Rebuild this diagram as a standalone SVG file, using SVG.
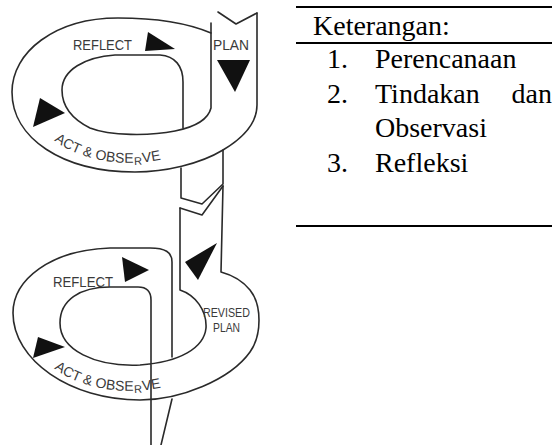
<svg xmlns="http://www.w3.org/2000/svg" width="552" height="445" viewBox="0 0 552 445">
<style>
.ln{fill:none;stroke:#2a2a2a;stroke-width:1.6;stroke-linejoin:round;stroke-linecap:round}
.ar{fill:#111}
.lb{font-family:"Liberation Sans",Arial,sans-serif;fill:#3a3a3a}
.lg{font-family:"Liberation Serif","Times New Roman",serif;font-size:28px;fill:#000}
.rule{stroke:#000;stroke-width:2}
</style>
<defs>
<path id="arcTop" d="M41.7,129 A102,68 0 0,0 208,138.7"/>
<path id="arcBot" d="M41.7,357 A102,68 0 0,0 208,366.7"/>
</defs>
<rect width="552" height="445" fill="#fff"/>

<g id="loop1">
<path class="ln" d="M211,33 C185,22 150,18 118,18 C55,18 12,52 12,92 C12,138 62,172 135,172 C165,172 200,164 223,150 C245,137 257,122 257,105 L257,13"/>
<path class="ln" d="M218,12 L236,24 L257,13"/>
<path class="ln" d="M211,23 L211,108 C208,120 195,127 175,131 C150,136 110,136 90,128 C70,118 62,105 62,90 C62,70 85,57 115,55 L160,55 C175,56 183,66 183,82 L183,128"/>
<polygon class="ar" points="148,32 175,49 145,51"/>
<polygon class="ar" points="217,60 250,60 235,92"/>
<polygon class="ar" points="40,98 65,113 33,127"/>
<text class="lb" x="73" y="50" font-size="15" textLength="59" lengthAdjust="spacingAndGlyphs">REFLECT</text>
<text class="lb" x="213" y="50" font-size="14" textLength="36" lengthAdjust="spacingAndGlyphs">PLAN</text>
<text class="lb" font-size="14"><textPath href="#arcTop" startOffset="17">ACT &amp; OBSE<tspan font-size="11" dx="0.5" dy="2">R</tspan><tspan dx="0.5" dy="-2">VE</tspan></textPath></text>
</g>

<g id="connectors">
<path class="ln" d="M181,168 L181,198 L202,204 L223,184 L223,150"/>
<path class="ln" d="M180,208 L202,215 L223,186"/>
</g>

<g id="loop2">
<path class="ln" d="M172,357 L172,262 C172,252 165,248 150,248 L110,248 C50,250 13,280 13,313 C13,360 70,400 140,400 C180,400 230,380 250,352 C262,335 262,305 250,290 C242,280 232,275 221,272 L223,186"/>
<path class="ln" d="M180,208 L180,290 C195,295 207,310 206,328 C204,348 180,362 140,365 C95,367 60,350 60,323 C60,300 80,287 110,287 L138,287 C147,287 151,292 151,300 L151,445"/>
<path class="ln" d="M172,399 L161,445"/>
<polygon class="ar" points="122,257 149,270 125,282"/>
<polygon class="ar" points="38,337 65,347 33,358"/>
<polygon class="ar" points="185,262 217,243 198,280"/>
<text class="lb" x="53" y="287" font-size="15" textLength="60" lengthAdjust="spacingAndGlyphs">REFLECT</text>
<text class="lb" x="203" y="317" font-size="13" textLength="47" lengthAdjust="spacingAndGlyphs">REVISED</text>
<text class="lb" x="213" y="332" font-size="13" textLength="27" lengthAdjust="spacingAndGlyphs">PLAN</text>
<text class="lb" font-size="14"><textPath href="#arcBot" startOffset="17">ACT &amp; OBSE<tspan font-size="11" dx="0.5" dy="2">R</tspan><tspan dx="0.5" dy="-2">VE</tspan></textPath></text>
</g>

<g id="legend">
<line class="rule" x1="296" y1="7" x2="552" y2="7"/>
<text class="lg" x="313" y="35">Keterangan:</text>
<line class="rule" x1="296" y1="43" x2="552" y2="43"/>
<text class="lg" x="327" y="68">1.</text>
<text class="lg" x="375" y="68">Perencanaan</text>
<text class="lg" x="327" y="103">2.</text>
<text class="lg" x="375" y="103">Tindakan</text>
<text class="lg" x="552" y="103" text-anchor="end">dan</text>
<text class="lg" x="375" y="137">Observasi</text>
<text class="lg" x="327" y="172">3.</text>
<text class="lg" x="375" y="172">Refleksi</text>
<line class="rule" x1="296" y1="226" x2="552" y2="226"/>
</g>
</svg>
